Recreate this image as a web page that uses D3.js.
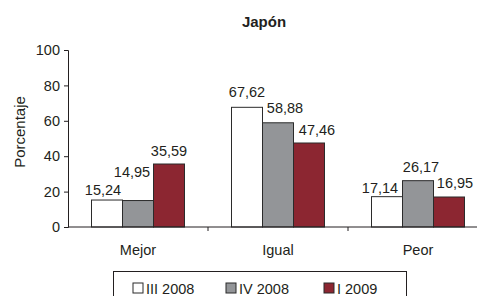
<!DOCTYPE html>
<html>
<head>
<meta charset="utf-8">
<script src="https://cdn.jsdelivr.net/npm/d3@7"></script>
<style>
  body { margin: 0; background: #fff; }
  text { font-family: "Liberation Sans", Arial, sans-serif; fill: #231f20; }
</style>
</head>
<body>
<svg id="chart" width="477" height="296"></svg>
<script>
const categories = ['Mejor', 'Igual', 'Peor'];
const seriesNames = ['III 2008', 'IV 2008', 'I 2009'];
const seriesColors = ['#ffffff', '#939598', '#8c2631'];
const values = [
  [15.24, 67.62, 17.14],
  [14.95, 58.88, 26.17],
  [35.59, 47.46, 16.95]
];
const yTicks = [0, 20, 40, 60, 80, 100];

// label placement tweaks (series x category), as in the original
const labelShift = [
  [-4, 0, -7],
  [-6, 7, 3],
  [0, 8, 6]
];
const labelLift = [
  [5, 10, 3.5],
  [24, 10, 9],
  [8, 8, 9]
];

let fmt = d3.format('.2f');
let comma = v => fmt(v).replace('.', ',');

let svg = d3.select('#chart');

let x = d3.scaleBand()
  .domain(categories)
  .range([68, 488]);

let xInner = d3.scaleBand()
  .domain(seriesNames)
  .range([23.5, x.bandwidth() - 23.5]);

let y = d3.scaleLinear()
  .domain([0, 100])
  .range([227, 50]);

// title
svg.append('text')
  .attr('x', 264)
  .attr('y', 27)
  .attr('text-anchor', 'middle')
  .style('font-size', '15px')
  .style('font-weight', 'bold')
  .text('Japón');

// y axis label
svg.append('text')
  .attr('transform', 'translate(25, 132) rotate(-90)')
  .attr('text-anchor', 'middle')
  .style('font-size', '15px')
  .text('Porcentaje');

// y axis
let yAxis = svg.append('g')
  .attr('transform', 'translate(68, 0)')
  .call(d3.axisLeft(y).tickValues(yTicks).tickSize(4).tickPadding(4));

yAxis.selectAll('text').style('font-size', '14.5px').attr('fill', '#231f20');
yAxis.selectAll('line, path').attr('stroke', '#231f20');

// bars
let group = svg.append('g')
  .selectAll('g')
  .data(categories)
  .enter()
  .append('g')
  .attr('transform', d => `translate(${x(d)}, 0)`);

let bar = group.selectAll('g')
  .data((c, ci) => seriesNames.map((s, si) => ({ s: s, si: si, ci: ci, v: values[si][ci] })))
  .enter()
  .append('g');

bar.append('rect')
  .attr('x', d => xInner(d.s))
  .attr('width', xInner.bandwidth())
  .attr('y', d => y(d.v))
  .attr('height', d => y(0) - y(d.v))
  .attr('fill', d => seriesColors[d.si])
  .attr('stroke', '#2b2b2b')
  .attr('stroke-width', 1);

bar.append('text')
  .attr('x', d => xInner(d.s) + xInner.bandwidth() / 2 + labelShift[d.si][d.ci])
  .attr('y', d => y(d.v) - labelLift[d.si][d.ci])
  .attr('text-anchor', 'middle')
  .style('font-size', '14.5px')
  .text(d => comma(d.v));

// x axis
let xAxis = svg.append('g')
  .attr('transform', `translate(0, ${y(0)})`);

xAxis.append('line')
  .attr('x1', 68)
  .attr('x2', 488)
  .attr('stroke', '#231f20');

xAxis.selectAll('line.tick')
  .data(categories)
  .enter()
  .append('line')
  .attr('class', 'tick')
  .attr('x1', d => x(d) + x.bandwidth())
  .attr('x2', d => x(d) + x.bandwidth())
  .attr('y2', 4)
  .attr('stroke', '#231f20');

xAxis.selectAll('text')
  .data(categories)
  .enter()
  .append('text')
  .attr('x', d => x(d) + x.bandwidth() / 2)
  .attr('y', 28)
  .attr('text-anchor', 'middle')
  .style('font-size', '14.5px')
  .text(d => d);

// legend
let legend = svg.append('g');

legend.append('rect')
  .attr('x', 113.5)
  .attr('y', 271.5)
  .attr('width', 293)
  .attr('height', 40)
  .attr('fill', 'none')
  .attr('stroke', '#231f20');

const legendX = [133, 226, 324];

let item = legend.selectAll('g')
  .data(seriesNames)
  .enter()
  .append('g')
  .attr('transform', (d, i) => `translate(${legendX[i]}, 283)`);

item.append('rect')
  .attr('width', 10)
  .attr('height', 10)
  .attr('fill', (d, i) => seriesColors[i])
  .attr('stroke', '#2b2b2b');

item.append('text')
  .attr('x', 13)
  .attr('y', 10.5)
  .style('font-size', '14.5px')
  .text(d => d);
</script>
</body>
</html>
